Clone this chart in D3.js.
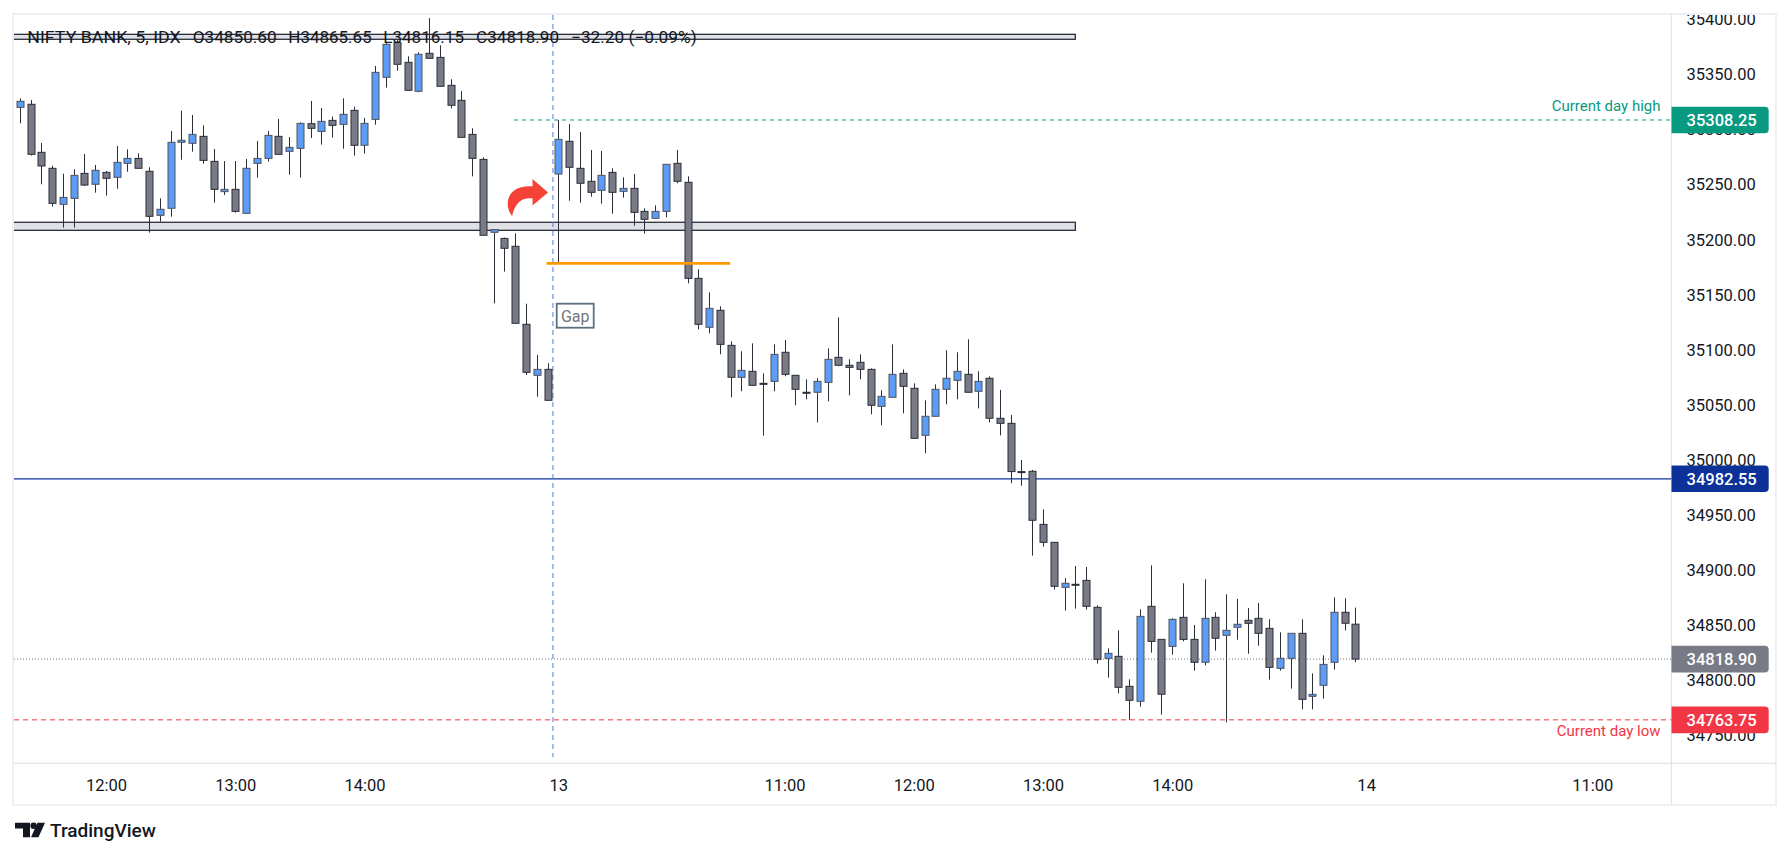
<!DOCTYPE html>
<html>
<head>
<meta charset="utf-8">
<script src="https://cdn.jsdelivr.net/npm/d3@7"></script>
<style>
  html, body { margin: 0; padding: 0; background: #ffffff; }
  svg { display: block; }
  text { font-family: Roboto, "Noto Sans", sans-serif; }
</style>
</head>
<body>
<svg id="chart" width="1791" height="858"></svg>
<script>
// ---------------- DATA (5-minute bars, NIFTY BANK) ----------------
const opens = [35319.7,35322.5,35278.9,35264.4,35231.7,35237.1,35259.8,35249.9,35260.7,35256.2,
  35268.9,35273.4,35261.7,35221.7,35228.1,35288.0,35287.1,35293.4,35270.7,35243.2,
  35245.3,35223.5,35268.9,35273.4,35293.4,35279.8,35282.5,35304.9,35297.9,35307.9,
  35304.3,35317.0,35285.3,35308.8,35347.0,35378.7,35360.6,35334.3,35368.8,35365.1,
  35339.7,35326.1,35295.2,35272.5,35206.3,35200.8,35193.6,35122.8,35076.5,35081.9,
  35259.2,35288.9,35264.4,35252.6,35244.4,35260.7,35243.5,35246.2,35225.3,35219.0,
  35225.3,35268.9,35251.7,35164.5,35120.1,35135.5,35103.7,35074.7,35080.1,35069.2,
  35071.0,35097.4,35076.5,35061.1,35061.1,35070.1,35092.8,35085.6,35088.3,35081.9,
  35048.3,35056.5,35078.3,35064.7,35022.0,35039.3,35063.8,35071.9,35077.4,35062.0,
  35073.8,35037.5,35032.9,34989.1,34989.4,34941.2,34924.9,34884.0,34886.8,34890.4,
  34865.9,34819.6,34821.4,34794.2,34780.6,34866.8,34836.8,34830.5,34856.8,34836.8,
  34816.0,34856.8,34840.5,34847.8,34854.1,34855.9,34846.8,34810.5,34819.6,34842.3,
  34785.1,34795.1,34816.0,34861.4,34850.60];
const highs = [35327.9,35326.4,35287.4,35266.8,35259.5,35263.5,35277.4,35267.4,35262.0,35284.7,
  35281.6,35278.0,35265.3,35237.1,35298.3,35316.7,35312.8,35303.4,35281.9,35271.0,
  35271.0,35272.8,35289.2,35298.3,35309.2,35292.8,35306.1,35325.5,35319.1,35311.3,
  35327.9,35320.3,35310.1,35357.3,35378.7,35381.0,35366.0,35369.7,35400.8,35376.0,
  35345.2,35334.3,35300.7,35274.4,35208.7,35201.5,35205.4,35141.5,35095.0,35087.4,
  35308.25,35304.6,35297.4,35281.0,35280.1,35264.4,35256.2,35259.2,35228.1,35230.8,
  35268.0,35281.0,35257.1,35172.7,35151.8,35139.1,35107.3,35098.3,35105.5,35078.3,
  35104.6,35108.6,35076.5,35072.8,35073.8,35101.0,35129.1,35091.0,35095.5,35082.8,
  35062.9,35104.6,35081.9,35069.2,35053.8,35068.3,35099.2,35097.4,35109.2,35080.1,
  35075.6,35063.2,35040.5,34999.6,34990.6,34954.8,34924.9,34892.5,34903.4,34902.5,
  34867.7,34828.7,34845.0,34800.5,34864.1,34904.0,34836.8,34855.9,34887.7,34849.9,
  34891.3,34861.4,34877.7,34873.5,34865.3,34869.8,34855.0,34843.2,34842.3,34855.0,
  34806.0,34822.3,34875.0,34874.1,34865.65];
const lows = [35305.2,35276.0,35249.9,35229.6,35210.5,35210.5,35248.5,35242.3,35239.6,35245.9,
  35261.3,35264.4,35206.0,35216.0,35220.5,35272.2,35279.5,35268.6,35233.2,35240.2,
  35224.1,35223.5,35255.9,35270.4,35277.1,35258.6,35255.9,35291.9,35285.9,35292.2,
  35282.2,35275.9,35277.7,35304.0,35337.6,35353.0,35335.2,35333.4,35364.2,35338.8,
  35318.8,35292.5,35257.1,35203.6,35141.8,35170.6,35123.7,35076.8,35057.1,35053.8,
  35178.1,35235.0,35233.2,35238.7,35232.3,35223.2,35237.8,35212.3,35205.1,35219.0,
  35219.9,35250.8,35160.0,35118.2,35114.6,35095.6,35056.5,35062.0,35067.4,35021.7,
  35062.0,35075.6,35049.3,35054.7,35033.8,35052.9,35084.7,35058.3,35072.8,35041.1,
  35031.1,35056.5,35042.0,35019.3,35005.7,35039.3,35050.2,35054.7,35061.1,35046.5,
  35033.8,35022.0,34978.5,34976.3,34912.8,34921.0,34882.0,34862.9,34864.7,34863.8,
  34814.8,34802.1,34787.8,34763.75,34775.7,34824.8,34768.5,34823.0,34835.0,34808.4,
  34813.2,34826.6,34761.5,34836.5,34823.8,34831.1,34800.2,34808.4,34792.1,34773.3,
  34773.3,34783.0,34809.3,34845.0,34816.15];
const closes = [35325.2,35277.1,35266.5,35232.6,35238.0,35258.0,35249.2,35262.6,35255.3,35269.8,
  35273.4,35264.4,35220.8,35227.2,35288.0,35289.8,35295.2,35271.6,35245.3,35245.3,
  35225.3,35264.4,35273.4,35294.3,35277.1,35283.4,35305.2,35300.7,35307.0,35303.4,
  35313.4,35285.3,35305.2,35351.5,35376.9,35358.8,35335.2,35367.9,35364.2,35338.8,
  35321.6,35292.5,35273.4,35203.6,35208.7,35191.8,35123.7,35079.2,35081.9,35053.8,
  35290.7,35265.3,35250.8,35242.6,35258.0,35242.6,35246.2,35224.4,35218.1,35225.3,
  35268.0,35252.6,35164.5,35122.8,35137.3,35104.6,35074.7,35081.0,35067.4,35068.9,
  35095.5,35077.4,35063.8,35060.9,35071.0,35091.0,35085.6,35083.7,35081.9,35049.3,
  35057.4,35077.4,35066.5,35019.3,35039.3,35063.8,35073.8,35080.1,35061.1,35071.0,
  35037.5,35032.9,34989.1,34988.8,34944.9,34924.9,34885.0,34887.7,34886.6,34866.8,
  34818.7,34824.1,34793.3,34781.5,34857.7,34835.0,34787.0,34855.0,34836.8,34816.0,
  34855.9,34837.8,34845.0,34850.5,34851.4,34842.3,34811.4,34819.6,34842.3,34782.4,
  34786.9,34814.1,34861.4,34851.4,34818.90];

// time axis: bar index of each labelled bar and its label
const timeTickBars = [8, 20, 32, 50, 71, 83, 95, 107, 125, 146];
const timeTickLabels = ["12:00", "13:00", "14:00", "13", "11:00", "12:00", "13:00", "14:00", "14", "11:00"];
// price axis ticks
const priceTicks = [35400, 35350, 35300, 35250, 35200, 35150, 35100, 35050, 35000, 34950, 34900, 34850, 34800, 34750];

// levels & annotations
const dayHigh = 35308.25;
const dayLow = 34763.75;
const refLevel = 34982.55;
const lastPrice = 34818.90;
const gapLevel = 35178.1;
const zones = [[35381.5, 35386.0], [35208.1, 35215.4]];
const zoneEndBar = 98;
const gapLineBars = [48.9, 65.95];
const dayHighStartBar = 45.9;
const sessionBreakBar = 49.5;
const legendItems = ["NIFTY BANK, 5, IDX", "O34850.60", "H34865.65", "L34816.15", "C34818.90", "\u221232.20 (\u22120.09%)"];

// ---------------- LAYOUT ----------------
const svg = d3.select("#chart");
const L = 14, T = 15, PR = 1671.5, PB = 763.3, R = 1776, B = 805;

const x = d3.scaleLinear().domain([-0.63, 153.37]).range([13, 1671.7]);
const y = d3.scaleLinear().domain([34750, 35350]).range([735, 74]);

const defs = svg.append("defs");
defs.append("clipPath").attr("id", "plotClip")
  .append("rect").attr("x", L).attr("y", T).attr("width", PR - L).attr("height", PB - T);
defs.append("clipPath").attr("id", "axisClip")
  .append("rect").attr("x", PR).attr("y", T).attr("width", R - PR).attr("height", PB - T);

// frame
svg.append("rect").attr("x", 13).attr("y", 14).attr("width", R - 13).attr("height", B - 14)
  .attr("fill", "#ffffff").attr("stroke", "#eef0f5").attr("stroke-width", 2);
svg.append("line").attr("x1", 13).attr("x2", R).attr("y1", PB).attr("y2", PB)
  .attr("stroke", "#e0e3eb").attr("stroke-width", 1.2);
svg.append("line").attr("x1", PR).attr("x2", PR).attr("y1", T).attr("y2", B)
  .attr("stroke", "#e0e3eb").attr("stroke-width", 1.2);

const plot = svg.append("g").attr("clip-path", "url(#plotClip)");

// zones
zones.forEach(z => {
  plot.append("rect")
    .attr("x", x(-3)).attr("y", y(z[1]))
    .attr("width", x(zoneEndBar) - x(-3)).attr("height", y(z[0]) - y(z[1]))
    .attr("fill", "#dfe1e6").attr("stroke", "#2a2e39").attr("stroke-width", 1.3);
});

// horizontal lines
plot.append("line").attr("x1", L).attr("x2", PR).attr("y1", y(refLevel)).attr("y2", y(refLevel))
  .attr("stroke", "#0c3299").attr("stroke-width", 1.2);
plot.append("line").attr("x1", L).attr("x2", PR).attr("y1", y(lastPrice)).attr("y2", y(lastPrice))
  .attr("stroke", "#787b86").attr("stroke-width", 1).attr("stroke-dasharray", "1,2");
plot.append("line").attr("x1", L).attr("x2", PR).attr("y1", y(dayLow)).attr("y2", y(dayLow))
  .attr("stroke", "#f23645").attr("stroke-width", 1).attr("stroke-dasharray", "5,4");
plot.append("line").attr("x1", x(dayHighStartBar)).attr("x2", PR).attr("y1", y(dayHigh)).attr("y2", y(dayHigh))
  .attr("stroke", "#089981").attr("stroke-width", 1).attr("stroke-dasharray", "4,4");

// session break
plot.append("line").attr("x1", x(sessionBreakBar)).attr("x2", x(sessionBreakBar)).attr("y1", T).attr("y2", 757)
  .attr("stroke", "#4a7fe0").attr("stroke-width", 1).attr("stroke-dasharray", "5,4");

// candles
const idx = d3.range(opens.length);
const cg = plot.append("g");
idx.forEach(i => {
  const up = closes[i] >= opens[i];
  const cx = Math.round(x(i)) + 0.5;
  cg.append("line").attr("x1", cx).attr("x2", cx)
    .attr("y1", y(highs[i])).attr("y2", y(lows[i]))
    .attr("stroke", "#2a2e39").attr("stroke-width", 1);
  const top = y(Math.max(opens[i], closes[i]));
  const bot = y(Math.min(opens[i], closes[i]));
  const h = Math.max(bot - top, 1);
  cg.append("rect")
    .attr("x", cx - 3.5).attr("y", top).attr("width", 7).attr("height", h)
    .attr("fill", up ? "#5b9cf6" : "#787b86")
    .attr("stroke", up ? "#50535e" : "#2a2e39").attr("stroke-width", 1);
});

// gap line (orange)
plot.append("line").attr("x1", x(gapLineBars[0])).attr("x2", x(gapLineBars[1]))
  .attr("y1", y(gapLevel)).attr("y2", y(gapLevel))
  .attr("stroke", "#ff9800").attr("stroke-width", 2.8);

// red curved arrow
plot.append("path")
  .attr("transform", `translate(${x(45.1)},${y(35254.7)})`)
  .attr("d", "M27 0 L42.5 13.5 L27 26.5 L27 19.5 C18 18.5 10 22 6.5 37 C0 29 0 15 12 9.5 C17 7.3 22 7.2 27 7.2 Z")
  .attr("fill", "#f44336");

// Gap label
const gapBox = plot.append("g").attr("transform", `translate(${x(49.85)},${y(35141.5)})`);
gapBox.append("rect").attr("x", 0).attr("y", 0).attr("width", 37).attr("height", 24)
  .attr("fill", "#ffffff").attr("stroke", "#5d7080").attr("stroke-width", 1.8);
gapBox.append("text").attr("x", 18.5).attr("y", 18).attr("text-anchor", "middle")
  .attr("font-size", 16).attr("fill", "#6f7580").text("Gap");

// legend text
const legendX = [27.3, 192.7, 288.3, 383.3, 476.1, 571];
const legendW = [153.4, 84, 83.4, 80.7, 83, 125.7];
legendItems.forEach((t, k) => {
  plot.append("text").attr("x", legendX[k]).attr("y", 43.3)
    .attr("font-size", 16.5).attr("fill", "#131722")
    .attr("textLength", legendW[k]).attr("lengthAdjust", "spacingAndGlyphs").text(t);
});

// level captions
plot.append("text").attr("x", 1660.5).attr("y", y(dayHigh) - 8.5).attr("text-anchor", "end")
  .attr("font-size", 15).attr("fill", "#089981").text("Current day high");
plot.append("text").attr("x", 1660.5).attr("y", y(dayLow) + 16).attr("text-anchor", "end")
  .attr("font-size", 15).attr("fill", "#f23645").text("Current day low");

// ---------------- AXES ----------------
const yAxisG = svg.append("g").attr("clip-path", "url(#axisClip)")
  .append("g").attr("transform", `translate(${PR},0)`)
  .call(d3.axisRight(y).tickValues(priceTicks).tickFormat(d3.format(".2f")).tickSize(0).tickPadding(15));
yAxisG.select(".domain").remove();
yAxisG.selectAll("text").attr("font-size", 16.5).attr("fill", "#131722")
  .attr("font-family", "Roboto, 'Noto Sans', sans-serif").attr("dy", "0.35em");

const xAxisG = svg.append("g").attr("transform", `translate(0,${PB})`)
  .call(d3.axisBottom(x).tickValues(timeTickBars).tickFormat((d, k) => timeTickLabels[k]).tickSize(0).tickPadding(16));
xAxisG.select(".domain").remove();
xAxisG.selectAll("text").attr("font-size", 16.5).attr("fill", "#131722")
  .attr("font-family", "Roboto, 'Noto Sans', sans-serif");

// price badges
function badge(price, color, label) {
  const cy = y(price), x0 = PR, x1 = 1768.7, hh = 13.3, r = 4;
  const g = svg.append("g");
  g.append("path")
    .attr("d", `M${x0} ${cy - hh} H${x1 - r} Q${x1} ${cy - hh} ${x1} ${cy - hh + r} V${cy + hh - r} Q${x1} ${cy + hh} ${x1 - r} ${cy + hh} H${x0} Z`)
    .attr("fill", color);
  g.append("text").attr("x", 1686.5).attr("y", cy).attr("dy", "0.35em")
    .attr("font-size", 16.5).attr("font-weight", 500).attr("fill", "#ffffff").text(label);
}
badge(dayHigh, "#089981", d3.format(".2f")(dayHigh));
badge(refLevel, "#0c3299", d3.format(".2f")(refLevel));
badge(lastPrice, "#787b86", d3.format(".2f")(lastPrice));
badge(dayLow, "#f23645", d3.format(".2f")(dayLow));

// ---------------- TradingView logo ----------------
const logo = svg.append("g");
logo.append("path").attr("d", "M15 822.7 H30 V837.3 H23 V828.5 H15 Z").attr("fill", "#131722");
logo.append("circle").attr("cx", 33.6).attr("cy", 825.8).attr("r", 3.2).attr("fill", "#131722");
logo.append("path").attr("d", "M37.5 822.7 H45 L38.5 837.3 H31 Z").attr("fill", "#131722");
logo.append("text").attr("x", 50).attr("y", 837.2).attr("font-size", 19).attr("font-weight", 500)
  .attr("fill", "#131722").text("TradingView");
</script>
</body>
</html>
